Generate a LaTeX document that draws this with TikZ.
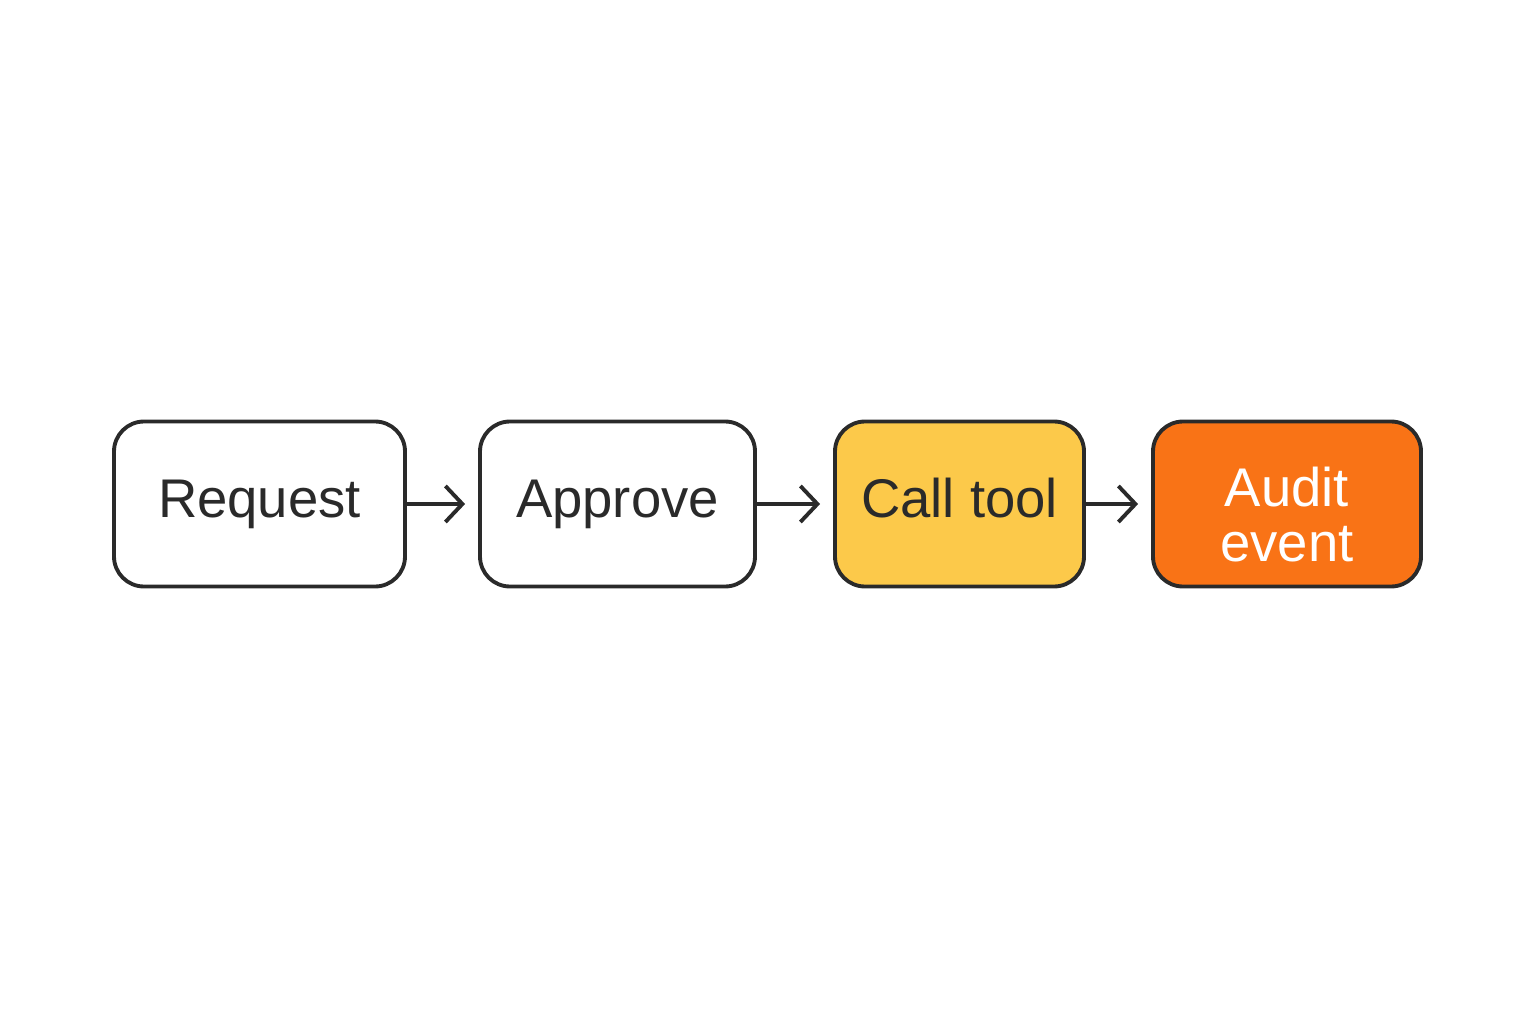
\documentclass[tikz,border=0pt]{standalone}
\usepackage{fontspec}
\setmainfont{Liberation Sans}
\usetikzlibrary{arrows.meta, positioning}

\definecolor{inkgray}{HTML}{2A2A2A}
\definecolor{toolyellow}{HTML}{FCC94A}
\definecolor{auditorange}{HTML}{F97316}

\begin{document}
\begin{tikzpicture}[->, >={Straight Barb[length=0.17cm,width=0.36cm]}, line width=1.1pt,
    box/.style={draw=inkgray, line width=1.1pt, rounded corners=0.3cm, minimum height=1.65cm,
        align=center, text=inkgray, font=\fontsize{15.5}{15.6}\selectfont},
    oneline/.style={text height=0.95em, text depth=0.2em}]

\useasboundingbox (0,0) rectangle (15.36,10.24);

% Define nodes
\node[box, oneline, fill=white, minimum width=2.91cm] (request) at (2.595, 5.2) {Request};
\node[box, oneline, fill=white, minimum width=2.75cm] (approve) at (6.175, 5.2) {Approve};
\node[box, oneline, fill=toolyellow, minimum width=2.49cm] (calltool) at (9.595, 5.2) {Call tool};
\node[box, fill=auditorange, text=white, minimum width=2.68cm] (audit) at (12.87, 5.2) {\rule{0pt}{17pt}Audit\\event};

% Draw edges
\path[draw=inkgray, shorten >=0.13cm]
    (request) edge (approve)
    (approve) edge (calltool)
    (calltool) edge (audit);

\end{tikzpicture}
\end{document}
